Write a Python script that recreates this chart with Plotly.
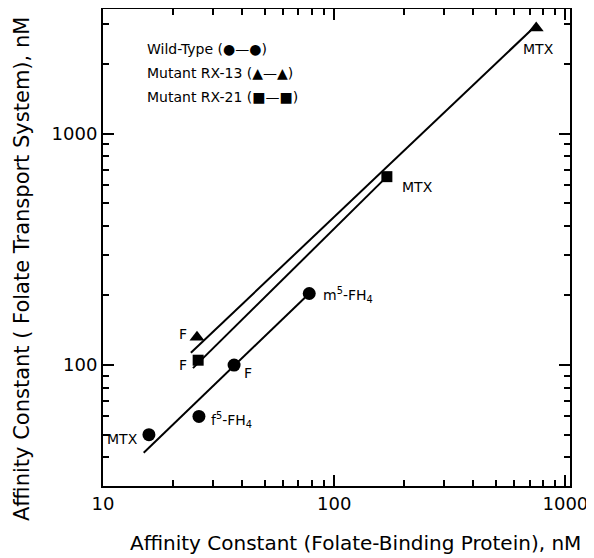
import plotly.graph_objects as go
import math

# ---- data ----
wt_x = [15.8, 26.0, 36.9, 78.0]
wt_y = [50, 60, 100, 204]
wt_labels = ["MTX", "f<sup>5</sup>-FH<sub>4</sub>", "F", "m<sup>5</sup>-FH<sub>4</sub>"]
wt_fit_x = [15.0, 78.0]
wt_fit_y = [41.8, 204]

rx13_x = [25.5, 748]
rx13_y = [132, 2870]
rx13_labels = ["F", "MTX"]
rx13_fit_x = [24.0, 748]
rx13_fit_y = [113, 2950]

rx21_x = [25.8, 169]
rx21_y = [105, 653]
rx21_labels = ["F", "MTX"]
rx21_fit_x = [24.5, 169]
rx21_fit_y = [97, 653]

legend_lines = ["Wild-Type (●—●)", "Mutant RX-13 (▲—▲)", "Mutant RX-21 (■—■)"]

x_major = [10, 100, 1000]
x_major_text = ["10", "100", "1000"]
x_minor = [20, 30, 40, 50, 60, 70, 80, 90, 200, 300, 400, 500, 600, 700, 800, 900]
y_major = [100, 1000]
y_major_text = ["100", "1000"]
y_minor = [40, 50, 60, 70, 80, 90, 200, 300, 400, 500, 600, 700, 800, 900, 2000, 3000]

x_title = "Affinity Constant (Folate-Binding Protein), nM"
y_title = "Affinity Constant ( Folate Transport System), nM"

# ---- figure ----
FONT = "DejaVu Sans"
PW, PH = 467, 477  # plot area size in px
fig = go.Figure()

for fx, fy in [(wt_fit_x, wt_fit_y), (rx13_fit_x, rx13_fit_y), (rx21_fit_x, rx21_fit_y)]:
    fig.add_trace(go.Scatter(x=fx, y=fy, mode="lines",
                             line=dict(color="black", width=2), showlegend=False,
                             hoverinfo="skip"))

fig.add_trace(go.Scatter(x=wt_x, y=wt_y, mode="markers", name="Wild-Type",
                         marker=dict(symbol="circle", size=13, color="black"),
                         showlegend=False))
fig.add_trace(go.Scatter(x=rx13_x, y=rx13_y, mode="markers", name="Mutant RX-13",
                         marker=dict(symbol="triangle-up", size=13, color="black"),
                         showlegend=False))
fig.add_trace(go.Scatter(x=rx21_x, y=rx21_y, mode="markers", name="Mutant RX-21",
                         marker=dict(symbol="square", size=11, color="black"),
                         showlegend=False))


def add_labels(xs, ys, labels, offsets):
    for x, y, t, (dx, dy, anc) in zip(xs, ys, labels, offsets):
        fig.add_annotation(x=math.log10(x), y=math.log10(y), text=t, showarrow=False,
                           xshift=dx, yshift=dy, xanchor=anc,
                           font=dict(family=FONT, size=14, color="black"))

add_labels(wt_x, wt_y, wt_labels,
           [(-9, -4, "right"), (10, -4, "left"), (8, -8, "left"), (12, -1, "left")])
add_labels(rx13_x, rx13_y, rx13_labels, [(-8, 3, "right"), (2, -21, "center")])
add_labels(rx21_x, rx21_y, rx21_labels, [(-9, -5, "right"), (13, -10, "left")])

for i, t in enumerate(legend_lines):
    fig.add_annotation(xref="paper", yref="paper", x=(145 - 103) / PW,
                       y=1 - (49 + 24 * i - 9) / PH, text=t, showarrow=False,
                       xanchor="left", yanchor="middle",
                       font=dict(family=FONT, size=14, color="black"))

# axis titles as annotations (positioned like the reference)
fig.add_annotation(xref="paper", yref="paper", x=(355 - 103) / PW, y=(486 - 543) / PH,
                   text=x_title, showarrow=False, xanchor="center", yanchor="middle",
                   font=dict(family=FONT, size=20, color="black"))
fig.add_annotation(xref="paper", yref="paper", x=(22 - 103) / PW, y=1 - (269 - 9) / PH,
                   text=y_title, showarrow=False, xanchor="center", yanchor="middle",
                   textangle=-90, font=dict(family=FONT, size=21, color="black"))

axis_common = dict(type="log", showgrid=False, zeroline=False, showline=True,
                   linecolor="black", linewidth=2, mirror="ticks", ticks="inside",
                   tickcolor="black", tickwidth=1.5, ticklen=11, automargin=False,
                   tickfont=dict(family=FONT, size=18, color="black"))

fig.update_xaxes(**axis_common, range=[1, 3.02], tickvals=x_major, ticktext=x_major_text,
                 minor=dict(tickvals=x_minor, ticks="inside", ticklen=6,
                            tickcolor="black", tickwidth=1.5))
fig.update_yaxes(**axis_common, range=[math.log10(30), 3.54], tickvals=y_major,
                 ticktext=y_major_text,
                 minor=dict(tickvals=y_minor, ticks="inside", ticklen=6,
                            tickcolor="black", tickwidth=1.5))

# the page body adds an 8 px offset, so the figure is 8 px smaller and shifted
fig.update_layout(width=586, height=550, margin=dict(l=95, r=24, t=1, b=72),
                  plot_bgcolor="white", paper_bgcolor="white", showlegend=False,
                  font=dict(family=FONT, color="black"))

fig.write_html("out.html")
